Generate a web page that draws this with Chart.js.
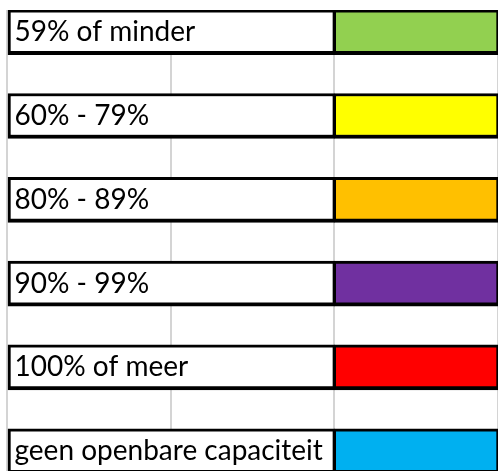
<!DOCTYPE html>
<html><head><meta charset="utf-8">
<script src="https://cdn.jsdelivr.net/npm/chart.js@4"></script>
<style>html,body{margin:0;padding:0;background:#fff;}canvas{display:block;}</style>
</head><body>
<canvas id="c" width="498" height="471"></canvas>
<script>
// Legend rows (categories), their fill colours, and the cell spans in sheet columns
const categories = ['59% of minder', '60% - 79%', '80% - 89%', '90% - 99%', '100% of meer', 'geen openbare capaciteit'];
const colors = ['#92D050', '#FFFF00', '#FFC000', '#7030A0', '#FF0000', '#00B0F0'];
const labelCellSpan = [2, 2, 2, 2, 2, 2];
const colorCellSpan = [1, 1, 1, 1, 1, 1];
const columnTicks = [0, 1, 2, 3];

function noPad(s) {
  s.paddingTop = 0; s.paddingBottom = 0; s.paddingLeft = 0; s.paddingRight = 0;
}

function draw() {
  new Chart(document.getElementById('c'), {
    type: 'bar',
    data: {
      datasets: [
        {
          label: 'tekst',
          data: categories.map((_, i) => ({ y: i, x: labelCellSpan[i] })),
          backgroundColor: '#FFFFFF',
          borderColor: '#000000',
          borderWidth: { top: 3, bottom: 4, left: 3, right: 2 },
          borderSkipped: false,
          barThickness: 45
        },
        {
          label: 'kleur',
          data: categories.map((_, i) => ({ y: i, x: colorCellSpan[i] })),
          backgroundColor: colors,
          borderColor: '#000000',
          borderWidth: { top: 3, bottom: 4, left: 2, right: 2 },
          borderSkipped: false,
          barThickness: 45
        }
      ]
    },
    options: {
      indexAxis: 'y',
      responsive: false,
      animation: false,
      devicePixelRatio: 1,
      layout: { padding: { left: 7, top: 10, right: 0, bottom: 0 } },
      plugins: { legend: { display: false }, tooltip: { enabled: false } },
      scales: {
        x: {
          type: 'linear',
          stacked: true,
          offset: false,
          min: 0,
          max: 3,
          afterBuildTicks: (s) => { s.ticks = columnTicks.map(v => ({ value: v })); },
          afterFit: (s) => { s.height = 0; noPad(s); },
          ticks: { display: false },
          grid: { color: '#d4d4d4', lineWidth: 2, drawTicks: false, offset: false },
          border: { display: false }
        },
        y: {
          type: 'linear',
          stacked: true,
          offset: false,
          reverse: true,
          min: -0.265,
          max: 5.236,
          afterBuildTicks: (s) => { s.ticks = categories.map((_, i) => ({ value: i })); },
          afterFit: (s) => { s.width = 0; noPad(s); },
          grid: { display: false, drawTicks: false, offset: false },
          border: { display: false },
          ticks: {
            mirror: true,
            padding: 7.5,
            z: 1,
            autoSkip: false,
            color: '#000000',
            font: { family: 'Lato', size: 28 },
            callback: (v) => categories[v]
          }
        }
      }
    }
  });
}
if (document.fonts && document.fonts.load) {
  document.fonts.load('28px Lato').then(draw, draw);
} else { draw(); }
</script>
</body></html>
